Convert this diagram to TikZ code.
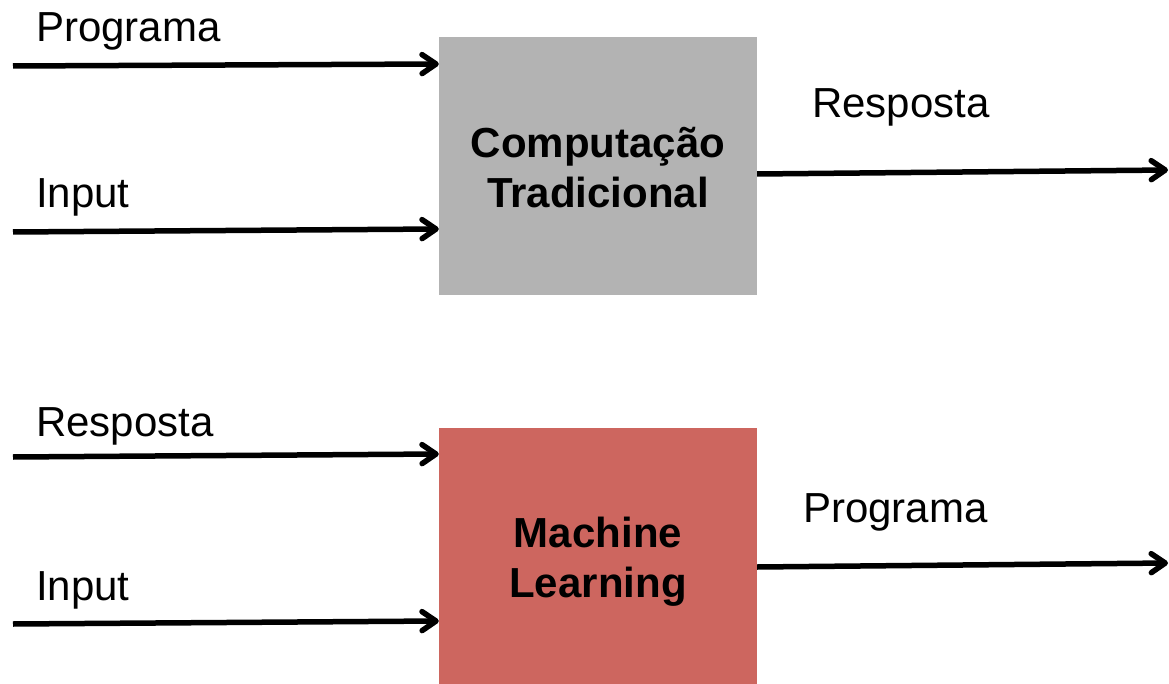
\documentclass[tikz,border=0pt]{standalone}
\usepackage{fontspec}
\setmainfont{Liberation Sans}
\usetikzlibrary{arrows.meta}
\definecolor{boxgray}{HTML}{B3B3B3}
\definecolor{boxred}{HTML}{CD665F}
\tikzset{
  flow/.style={line width=5.5pt, -{Straight Barb[length=14pt,width=19pt,line cap=round,line join=round]}},
  label/.style={anchor=base west, inner sep=0pt, font=\fontsize{42}{48}\selectfont},
  block/.style={minimum width=318pt, minimum height=258pt, inner sep=0pt, align=center,
    font=\fontsize{42}{50}\selectfont\bfseries},
}
\begin{document}
\begin{tikzpicture}[x=1pt,y=-1pt]
\useasboundingbox (0,0) rectangle (1169,684);

% traditional computing
\node[block, fill=boxgray] (comp) at (598,166) {};
\node[font=\fontsize{42}{50}\selectfont\bfseries, align=center, inner sep=0pt] (comptxt) at (598,168) {Computação\\Tradicional};
\node[label] (lprog) at (36,42) {Programa};
\node[label] (linp) at (36,208) {Input};
\node[label] (lresp) at (812,118) {Resposta};
\coordinate (prog0) at (13,66);
\coordinate (inp0) at (13,232);
\coordinate (resp1) at (1168,170);
\draw[flow] (prog0) -- ([yshift=102pt]comp.west);
\draw[flow] (inp0) -- ([yshift=-63pt]comp.west);
\draw[flow] ([yshift=-8pt]comp.east) -- (resp1);

% machine learning
\node[block, fill=boxred, minimum height=256pt] (ml) at (598,556) {};
\node[font=\fontsize{42}{50}\selectfont\bfseries, align=center, inner sep=0pt] (mltxt) at (598,562) {Machine\\Learning};
\node[label] (lresp2) at (36,436) {Resposta};
\node[label] (linp2) at (36,600) {Input};
\node[label] (lprog2) at (803,522) {Programa};
\coordinate (resp0) at (13,457);
\coordinate (inp1) at (13,624);
\coordinate (prog1) at (1168,563);
\draw[flow] (resp0) -- ([yshift=102pt]ml.west);
\draw[flow] (inp1) -- ([yshift=-65pt]ml.west);
\draw[flow] ([yshift=-11pt]ml.east) -- (prog1);
\end{tikzpicture}
\end{document}
